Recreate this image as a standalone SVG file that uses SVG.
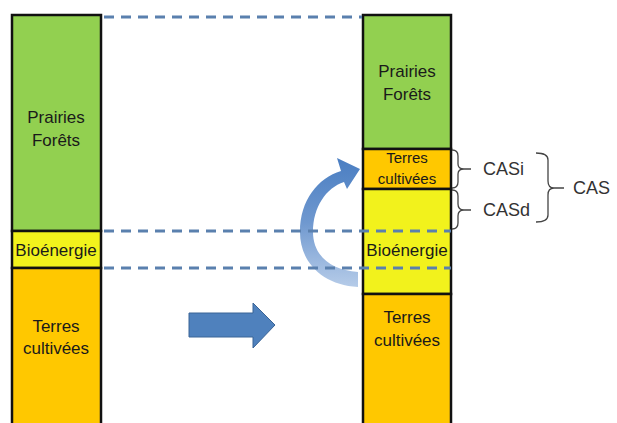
<svg xmlns="http://www.w3.org/2000/svg" width="617" height="423" viewBox="0 0 617 423">
<defs>
<style>
.box{stroke:#111;stroke-width:2.5}
.green{fill:#92d050}
.yellow{fill:#f2f21c}
.orange{fill:#ffc800}
.lbl{font-family:"Liberation Sans",Arial,sans-serif;font-size:17px;fill:#1a1a1a;text-anchor:middle}
.cas{font-family:"Liberation Sans",Arial,sans-serif;font-size:18px;fill:#333}
.dash{stroke:#5a80ae;stroke-width:3;stroke-dasharray:10 7;fill:none}
.brace{stroke:#444;stroke-width:1.3;fill:none}
</style>
<linearGradient id="arcGrad" x1="0" y1="1" x2="0" y2="0">
<stop offset="0" stop-color="#a8c2e4" stop-opacity="0.85"/>
<stop offset="0.5" stop-color="#6f98cf"/>
<stop offset="1" stop-color="#4a7ec2"/>
</linearGradient>
</defs>
<rect width="617" height="423" fill="#fff"/>

<g id="left-column">
<rect class="box green" x="12" y="15" width="89" height="216"/>
<rect class="box yellow" x="12" y="231" width="89" height="37"/>
<rect class="box orange" x="12" y="268" width="89" height="160"/>
<text class="lbl" x="56" y="123">Prairies</text>
<text class="lbl" x="56" y="146">Forêts</text>
<text class="lbl" x="56" y="256">Bioénergie</text>
<text class="lbl" x="56" y="332">Terres</text>
<text class="lbl" x="56" y="354">cultivées</text>
</g>

<g id="curved-arrow">
<path d="M358,287 C322,285 300,262 300,232 C300,200 318,178 341,171 L337,158 L360,169 L347,189 L344,182 C326,188 313,207 313,232 C313,255 330,270 358,272 Z" fill="url(#arcGrad)"/>
</g>

<g id="right-column">
<rect class="box green" x="363" y="15" width="88" height="134"/>
<rect class="box orange" x="363" y="149" width="88" height="40"/>
<rect class="box yellow" x="363" y="189" width="88" height="105"/>
<rect class="box orange" x="363" y="294" width="88" height="134"/>
<text class="lbl" x="407" y="77">Prairies</text>
<text class="lbl" x="407" y="100">Forêts</text>
<text class="lbl" x="407" y="163" style="font-size:15px">Terres</text>
<text class="lbl" x="407" y="184" style="font-size:15px">cultivées</text>
<text class="lbl" x="407" y="256">Bioénergie</text>
<text class="lbl" x="407" y="323">Terres</text>
<text class="lbl" x="407" y="346">cultivées</text>
</g>

<g id="connectors">
<line class="dash" x1="104" y1="17" x2="362" y2="17"/>
<line class="dash" x1="104" y1="231" x2="451" y2="231"/>
<line class="dash" x1="104" y1="268" x2="451" y2="268"/>
</g>

<g id="straight-arrow">
<path d="M189,313 L253,313 L253,303 L275,325 L253,348 L253,337 L189,337 Z" fill="#4f81bd" stroke="#3a6496" stroke-width="1"/>
</g>

<g id="brace-casi">
<path class="brace" d="M452,150 Q458,150 458,156 L458,164 Q458,169 464,169 L471,169 M464,169 Q458,169 458,174 L458,182 Q458,188 452,188"/>
<text class="cas" x="483" y="175">CASi</text>
</g>
<g id="brace-casd">
<path class="brace" d="M452,190 Q458,190 458,196 L458,204 Q458,210 464,210 L471,210 M464,210 Q458,210 458,216 L458,223 Q458,229 452,229"/>
<text class="cas" x="483" y="216">CASd</text>
</g>
<g id="brace-cas">
<path class="brace" d="M536,153 Q548,153 548,160 L548,181 Q548,188 554,188 L564,188 M554,188 Q548,188 548,195 L548,215 Q548,222 536,222"/>
<text class="cas" x="573" y="194">CAS</text>
</g>
</svg>
